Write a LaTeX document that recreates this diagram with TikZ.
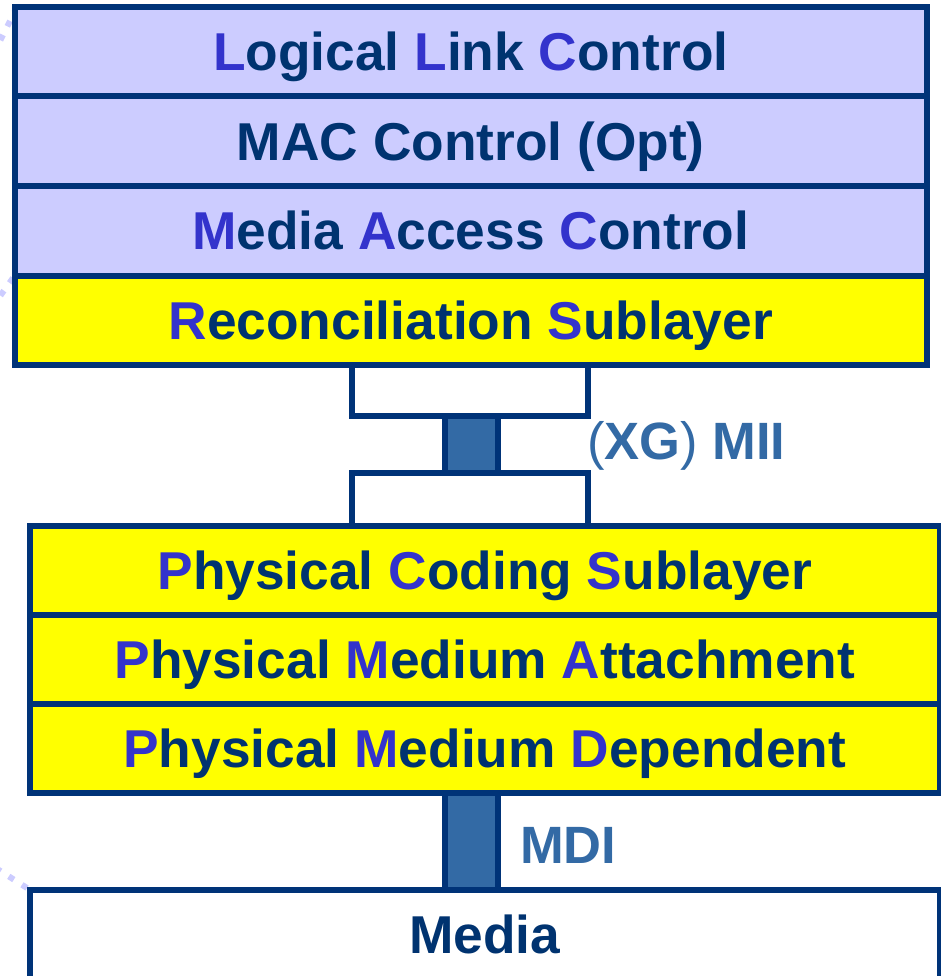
\documentclass[tikz,border=0pt]{standalone}
\usepackage{fontspec}
\setmainfont{Liberation Sans}
\definecolor{navy}{RGB}{0,51,120}
\definecolor{lav}{RGB}{204,204,255}
\definecolor{yel}{RGB}{255,255,0}
\definecolor{txt}{RGB}{0,51,112}
\definecolor{ini}{RGB}{51,51,204}
\definecolor{steel}{RGB}{51,106,165}
\newcommand\ini[1]{\textcolor{ini}{#1}}
\tikzset{
  layer/.style={draw=navy, line width=6pt, inner sep=0pt, outer sep=0pt,
    rectangle, text height=38pt, text depth=0pt, text=txt,
    font=\fontsize{53.3}{60}\selectfont\bfseries},
  upper/.style={layer, minimum width=911.5pt, minimum height=89.5pt, fill=lav},
  recon/.style={layer, minimum width=911.5pt, minimum height=89.5pt, fill=yel},
  phy/.style={layer, minimum width=909.5pt, minimum height=89pt, fill=yel},
  media/.style={layer, minimum width=909.5pt, minimum height=89pt, fill=white},
  port/.style={draw=navy, line width=6pt, fill=white, inner sep=0pt, outer sep=0pt,
    minimum width=236pt},
  link/.style={draw=navy, line width=6pt, fill=steel},
  iflabel/.style={text=steel, anchor=base west, inner sep=0pt,
    font=\fontsize{52.5}{60}\selectfont\bfseries},
  zoomline/.style={draw=lav, line width=6pt, dash pattern=on 6pt off 9.6pt}
}
\begin{document}
\begin{tikzpicture}[x=1pt,y=-1pt]
\useasboundingbox (0,0) rectangle (941,976);
\clip (0,0) rectangle (941,976);

% dotted guide lines leaving the stack on the left
\draw[zoomline] (17,7) -- (-12,65);
\draw[zoomline] (13,278) -- (-10,310);
\draw[zoomline] (27,888) -- (-20,858);

% interface ports of the (XG) MII
\node[port, minimum height=51pt] (miiTop) at (470,390.5) {};
\node[port, minimum height=53pt] (miiBot) at (470,499.5) {};
\draw[link] ([xshift=-25pt]miiTop.south) rectangle ([xshift=28pt]miiBot.north);

% MAC side
\node[upper] (llc)   at (470.75,51.75)  {\ini{L}ogical \ini{L}ink \ini{C}ontrol};
\node[upper] (macc)  at (470.75,141.25) {MAC Control (Opt)};
\node[upper] (mac)   at (470.75,230.75) {\ini{M}edia \ini{A}ccess \ini{C}ontrol};
\node[recon] (rs)    at (470.75,320.25) {\ini{R}econciliation \ini{S}ublayer};

% PHY side
\node[phy] (pcs) at (484.75,570.5) {\ini{P}hysical \ini{C}oding \ini{S}ublayer};
\node[phy] (pma) at (484.75,659.5) {\ini{P}hysical \ini{M}edium \ini{A}ttachment};
\node[phy] (pmd) at (484.75,748.5) {\ini{P}hysical \ini{M}edium \ini{D}ependent};

% medium
\node[media] (med) at (484.75,934) {Media};
\draw[link] ([xshift=-39.75pt]pmd.south) rectangle ([xshift=13.25pt]med.north);

% interface names
\node[iflabel] (miiLabel) at (587,459) {{\mdseries(}XG{\mdseries)} MII};
\node[iflabel] (mdiLabel) at (520,863) {MDI};
\end{tikzpicture}
\end{document}
